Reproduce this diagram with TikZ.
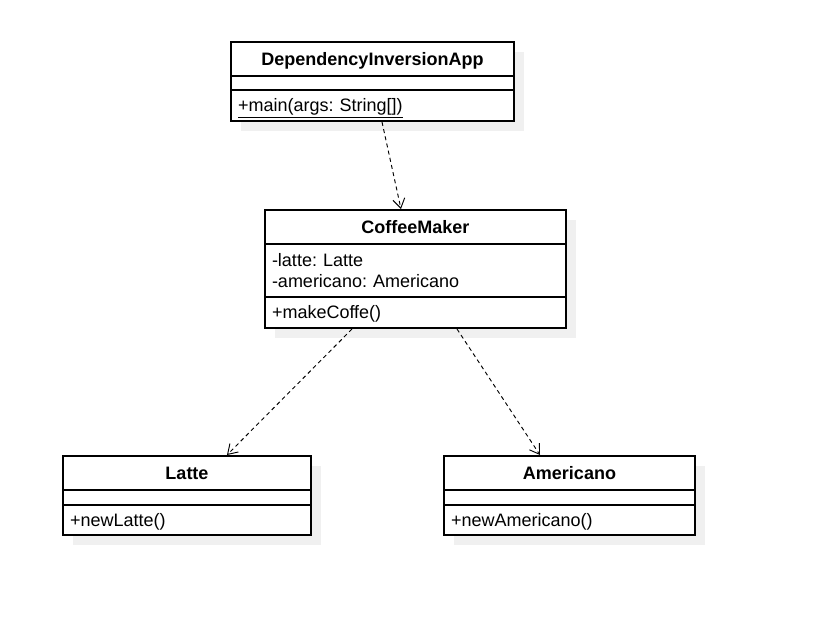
\documentclass[tikz,border=0pt]{standalone}
\usepackage{fontspec}
\setmainfont{Liberation Sans}
\frenchspacing
\usetikzlibrary{positioning,calc,shadows,arrows.meta}

\tikzset{
  umlpart/.style={draw, fill=white, rectangle, outer sep=0pt, inner xsep=5.25pt, inner ysep=0pt,
    line width=.8pt, font=\fontsize{13.5}{15.75}\selectfont,
    drop shadow={shadow xshift=7.5pt, shadow yshift=-7.5pt, fill=black!6, opacity=1, draw=none}},
  classname/.style={umlpart, font=\fontsize{13.5}{15.75}\selectfont\bfseries, align=center,
    text height=9.7pt, text depth=0pt},
  members/.style={umlpart, align=left},
  oneline/.style={members, text height=9.7pt, text depth=0pt},
  dep/.style={line width=.7pt, dash pattern=on 3pt off 2.5pt, -{Straight Barb[length=7pt,width=9pt]}}
}

\begin{document}
\begin{tikzpicture}[x=0.75pt, y=-0.75pt, node distance=0pt]
  \pgfmathsetmacro{\wapp}{201.75}
  \pgfmathsetmacro{\wmaker}{215.25}
  \pgfmathsetmacro{\wlatte}{175.5}
  \pgfmathsetmacro{\wamer}{177.75}

  \useasboundingbox (0,0) rectangle (840,629);

  % DependencyInversionApp
  \node[classname, text width=\wapp pt, minimum height=25.5pt, anchor=north west] (app-title) at (231,42) {DependencyInversionApp};
  \node[members, text width=\wapp pt, minimum height=10.5pt, below=of app-title] (app-attrs) {};
  \node[oneline, text width=\wapp pt, minimum height=23.25pt, below=of app-attrs] (app-ops) {\underline{+main(args: String[])}};

  % CoffeeMaker
  \node[classname, text width=\wmaker pt, minimum height=25.5pt, anchor=north west] (maker-title) at (265,210) {CoffeeMaker};
  \node[members, text width=\wmaker pt, minimum height=39.75pt, below=of maker-title] (maker-attrs) {-latte: Latte\\-americano: Americano};
  \node[oneline, text width=\wmaker pt, minimum height=23.25pt, below=of maker-attrs] (maker-ops) {+makeCoffe()};

  % Latte
  \node[classname, text width=\wlatte pt, minimum height=25.5pt, anchor=north west] (latte-title) at (63,456) {Latte};
  \node[members, text width=\wlatte pt, minimum height=11.25pt, below=of latte-title] (latte-attrs) {};
  \node[oneline, text width=\wlatte pt, minimum height=22.5pt, below=of latte-attrs] (latte-ops) {+newLatte()};

  % Americano
  \node[classname, text width=\wamer pt, minimum height=25.5pt, anchor=north west] (amer-title) at (444,456) {Americano};
  \node[members, text width=\wamer pt, minimum height=11.25pt, below=of amer-title] (amer-attrs) {};
  \node[oneline, text width=\wamer pt, minimum height=22.5pt, below=of amer-attrs] (amer-ops) {+newAmericano()};

  \draw[dep] ($(app-ops.south)+(9.5,1)$) -- ($(maker-title.north)+(-14.5,-1)$);
  \draw[dep] ($(maker-ops.south)+(-63.5,1)$) -- ($(latte-title.north)+(40,-1)$);
  \draw[dep] ($(maker-ops.south)+(41.5,1)$) -- ($(amer-title.north)+(-29.5,-1)$);
\end{tikzpicture}
\end{document}
